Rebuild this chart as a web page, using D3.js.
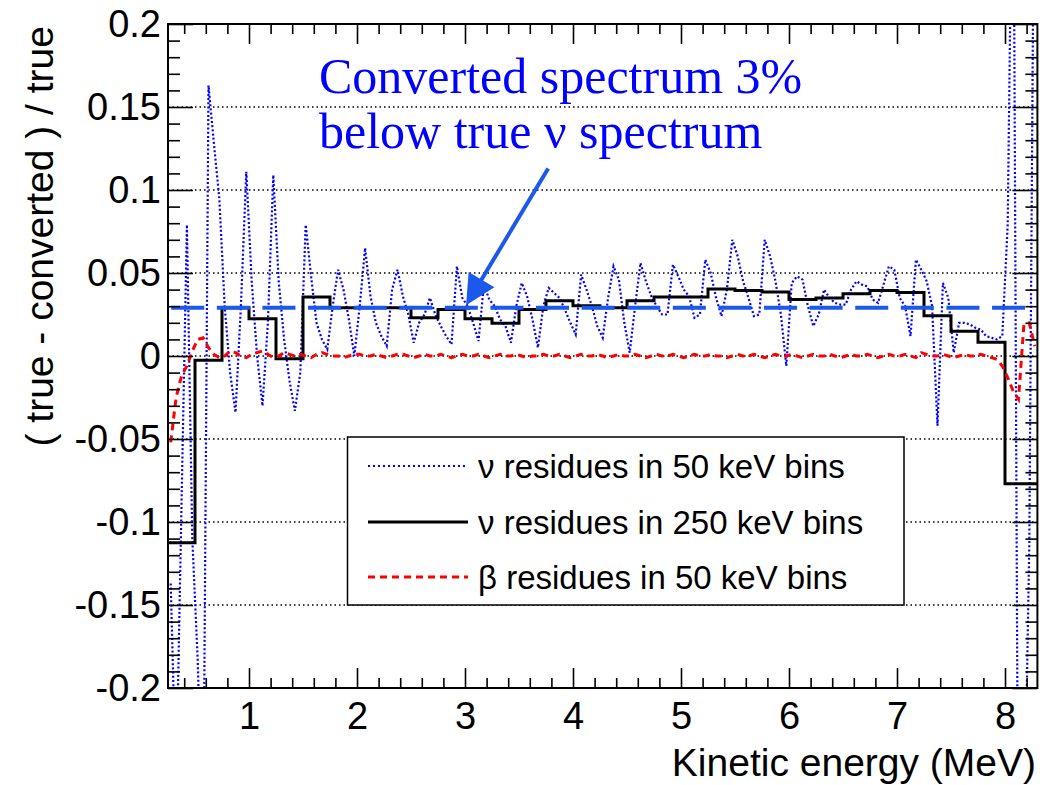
<!DOCTYPE html>
<html><head><meta charset="utf-8">
<script src="https://cdn.jsdelivr.net/npm/d3@7"></script>
<style>body{margin:0;background:#fff} svg{display:block}</style>
</head><body><svg id="c" width="1052" height="785"></svg>
<script>
// ---------------- data ----------------
const fineBinStart = 0.25, fineBinWidth = 0.05;   // 50 keV bins, 0.25 .. 8.3 MeV
const nuFine = [
 -0.137,-0.26,-0.09,0.079,-0.11,-0.183,-0.3,0.163,0.128,0.095,
 0.03,-0.01,-0.034,0.03,0.111,0.045,0.0,-0.03,0.02,0.109,
 0.045,0.01,-0.015,-0.033,-0.01,0.079,0.048,0.02,0.01,0.004,
 0.03,0.052,0.04,0.022,0.0,0.03,0.065,0.036,0.02,0.012,
 0.006,0.04,0.052,0.036,0.025,0.008,0.02,0.025,0.035,0.025,
 0.018,0.012,0.007,0.054,0.035,0.03,0.02,0.009,0.043,0.034,
 0.03,0.022,0.018,0.008,0.03,0.044,0.036,0.022,0.005,0.03,
 0.041,0.038,0.035,0.028,0.02,0.013,0.049,0.04,0.03,0.018,
 0.011,0.035,0.054,0.046,0.02,0.002,0.03,0.056,0.045,0.036,
 0.03,0.025,0.025,0.055,0.048,0.04,0.036,0.023,0.025,0.058,
 0.05,0.035,0.024,0.04,0.07,0.06,0.045,0.035,0.024,0.025,
 0.07,0.06,0.045,0.025,-0.006,0.044,0.048,0.046,0.03,0.018,
 0.025,0.04,0.035,0.032,0.031,0.031,0.04,0.045,0.043,0.042,
 0.034,0.032,0.043,0.054,0.052,0.035,0.03,0.012,0.058,0.052,
 0.045,0.03,-0.042,0.044,0.035,0.002,0.02,0.02,0.019,0.017,
 0.016,0.012,0.011,0.01,0.012,0.079,0.35,-0.35,-0.3,-0.114,
 0.35
];
const betaFine = [
 -0.052,-0.025,-0.012,-0.006,0.003,0.010,0.011,0.005,0.001,-0.001,
 0.000,0.003,0.002,0.000,-0.001,0.001,0.002,0.003,0.001,-0.001,
 0.000,0.002,0.001,0.000,0.001,0.000,-0.001,0.001,0.002,0.001,
 0.000,0.000,-0.001,0.000,0.001,0.001,0.000,0.000,0.001,0.000,
 -0.001,0.000,0.001,0.001,0.000,-0.001,0.000,0.001,0.000,0.000,
 0.001,0.000,-0.001,0.000,0.001,0.000,0.000,0.001,0.000,-0.001,
 0.000,0.001,0.000,0.000,0.001,0.000,-0.001,0.000,0.000,0.001,
 0.000,0.000,0.001,0.000,-0.001,0.000,0.001,0.000,0.000,0.001,
 0.000,-0.001,0.000,0.001,0.000,0.000,0.001,0.000,-0.001,0.000,
 0.001,0.000,0.000,0.001,0.000,-0.001,0.000,0.001,0.000,0.000,
 0.001,0.000,0.000,-0.001,0.000,0.001,0.000,0.000,0.001,0.000,
 -0.001,0.000,0.001,0.000,0.000,0.001,0.000,-0.001,0.000,0.001,
 0.000,0.000,0.001,0.000,-0.001,0.000,0.001,0.000,0.000,0.001,
 0.000,-0.001,0.000,0.001,0.000,0.000,0.001,0.000,-0.001,0.002,
 0.001,0.000,0.000,0.001,0.000,-0.001,0.000,0.001,0.000,0.000,
 0.001,0.000,-0.001,-0.002,-0.006,-0.013,-0.021,-0.026,0.019,0.020,
 0.006
];
const coarseEdges = [0.25,0.5,0.75,1.0,1.25,1.5,1.75,2.0,2.25,2.5,2.75,3.0,3.25,3.5,3.75,4.0,
                     4.25,4.5,4.75,5.0,5.25,5.5,5.75,6.0,6.25,6.5,6.75,7.0,7.25,7.5,7.75,8.0,8.3];
const nuCoarse = [-0.1125,-0.0025,0.029,0.0225,-0.0017,0.0355,0.029,0.029,0.029,0.023,0.028,0.0225,
                  0.0197,0.028,0.0333,0.0303,0.029,0.0333,0.0355,0.0355,0.0403,0.0395,0.0385,0.034,
                  0.035,0.0375,0.0395,0.0383,0.0243,0.0149,0.0083,-0.077];
const refLevel = 0.029;
const refRange = [0.28, 8.28];
const xMajorTicks = [1,2,3,4,5,6,7,8];
const xMinorTicks = [0.4,0.6,0.8,1.2,1.4,1.6,1.8,2.2,2.4,2.6,2.8,3.2,3.4,3.6,3.8,4.2,4.4,4.6,4.8,
                     5.2,5.4,5.6,5.8,6.2,6.4,6.6,6.8,7.2,7.4,7.6,7.8,8.2];
const yMajorTicks = [-0.2,-0.15,-0.1,-0.05,0,0.05,0.1,0.15,0.2];
const yTickLabels = ["-0.2","-0.15","-0.1","-0.05","0","0.05","0.1","0.15","0.2"];
const yGridTicks = [-0.15,-0.1,-0.05,0,0.05,0.1,0.15];
const yMinorTicks = d3.range(-20,21).filter(k=>k%5!==0).map(k=>k/100);
const legendLabels = ["\u03bd residues in 50 keV bins","\u03bd residues in 250 keV bins","\u03b2 residues in 50 keV bins"];
const annotationLines = ["Converted spectrum 3%","below true \u03bd spectrum"];
const arrowFrom = [3.77, 0.113], arrowTo = [3.01, 0.0305];
const xTitle = "Kinetic energy (MeV)";
const yTitle = "( true - converted ) / true";

// ---------------- layout ----------------
const L=168, R=1037.4, T=24, B=688;
const sans = "'Liberation Sans', Arial, Helvetica, sans-serif";
const serif = "'Liberation Serif', 'Times New Roman', serif";
const svg = d3.select("#c");
const x = d3.scaleLinear().domain([0.25, 8.3]).range([L, R]);
const y = d3.scaleLinear().domain([-0.2, 0.2]).range([B, T]);

svg.append("defs").append("clipPath").attr("id","pc")
  .append("rect").attr("x",L).attr("y",T).attr("width",R-L).attr("height",B-T);

// grid
svg.append("g").selectAll("line").data(yGridTicks).join("line")
  .attr("x1",L).attr("x2",R).attr("y1",d=>y(d)).attr("y2",d=>y(d))
  .attr("stroke","#000").attr("stroke-width",1.3).attr("stroke-dasharray","1.5,3");

const plot = svg.append("g").attr("clip-path","url(#pc)");
const center = i => fineBinStart + fineBinWidth*(i+0.5);

// blue dotted nu fine
plot.append("path").datum(nuFine)
  .attr("d", d3.line().x((d,i)=>x(center(i))).y(d=>y(d)))
  .attr("fill","none").attr("stroke","#0000ff").attr("stroke-width",2.2)
  .attr("stroke-dasharray","2,2.2");

// black step histogram
const stepPts = [];
nuCoarse.forEach((v,i)=>{ stepPts.push([coarseEdges[i],v]); stepPts.push([coarseEdges[i+1],v]); });
plot.append("path").datum(stepPts)
  .attr("d", d3.line().x(d=>x(d[0])).y(d=>y(d[1])))
  .attr("fill","none").attr("stroke","#000").attr("stroke-width",3);

// red dashed beta
plot.append("path").datum(betaFine)
  .attr("d", d3.line().x((d,i)=>x(center(i))).y(d=>y(d)))
  .attr("fill","none").attr("stroke","#ff0000").attr("stroke-width",3)
  .attr("stroke-dasharray","7,5");

// reference dashed line
plot.append("line").attr("x1",x(refRange[0])).attr("x2",x(refRange[1]))
  .attr("y1",y(refLevel)).attr("y2",y(refLevel))
  .attr("stroke","#1c58ec").attr("stroke-width",4).attr("stroke-dasharray","33,12.6");

// axes (ticks inward)
function noDomain(g){ g.select(".domain").remove(); g.selectAll("line").attr("stroke","#000").attr("stroke-width",1.6); }
svg.append("g").attr("transform",`translate(0,${B})`)
  .call(d3.axisBottom(x).tickValues(xMajorTicks).tickSizeInner(-20).tickSizeOuter(0).tickPadding(14).tickFormat(d3.format("d")))
  .call(noDomain)
  .call(g=>g.selectAll("text").attr("font-family",sans).attr("font-size",38).attr("fill","#000"));
svg.append("g").attr("transform",`translate(0,${B})`)
  .call(d3.axisBottom(x).tickValues(xMinorTicks).tickSizeInner(-10).tickSizeOuter(0).tickFormat(""))
  .call(noDomain);
svg.append("g").attr("transform",`translate(0,${T})`)
  .call(d3.axisTop(x).tickValues(xMajorTicks).tickSizeInner(-20).tickSizeOuter(0).tickFormat(""))
  .call(noDomain);
svg.append("g").attr("transform",`translate(0,${T})`)
  .call(d3.axisTop(x).tickValues(xMinorTicks).tickSizeInner(-10).tickSizeOuter(0).tickFormat(""))
  .call(noDomain);
svg.append("g").attr("transform",`translate(${L},0)`)
  .call(d3.axisLeft(y).tickValues(yMajorTicks).tickSizeInner(-25).tickSizeOuter(0).tickPadding(7)
        .tickFormat((d,i)=>yTickLabels[i]))
  .call(noDomain)
  .call(g=>g.selectAll("text").attr("font-family",sans).attr("font-size",38).attr("fill","#000"));
svg.append("g").attr("transform",`translate(${L},0)`)
  .call(d3.axisLeft(y).tickValues(yMinorTicks).tickSizeInner(-12).tickSizeOuter(0).tickFormat(""))
  .call(noDomain);
svg.append("g").attr("transform",`translate(${R},0)`)
  .call(d3.axisRight(y).tickValues(yMajorTicks).tickSizeInner(-25).tickSizeOuter(0).tickFormat(""))
  .call(noDomain);
svg.append("g").attr("transform",`translate(${R},0)`)
  .call(d3.axisRight(y).tickValues(yMinorTicks).tickSizeInner(-12).tickSizeOuter(0).tickFormat(""))
  .call(noDomain);

// frame
svg.append("rect").attr("x",L).attr("y",T).attr("width",R-L).attr("height",B-T)
  .attr("fill","none").attr("stroke","#000").attr("stroke-width",2);

// legend
const lg = svg.append("g");
lg.append("rect").attr("x",347.5).attr("y",437).attr("width",556.5).attr("height",168)
  .attr("fill","#fff").attr("stroke","#000").attr("stroke-width",1.5);
const legStyles = [
  {stroke:"#0000ff", w:2.2, dash:"2,3"},
  {stroke:"#000", w:3, dash:null},
  {stroke:"#ff0000", w:3, dash:"7,5"}
];
const legY = [466, 522, 577];
legendLabels.forEach((t,i)=>{
  lg.append("line").attr("x1",368).attr("x2",468).attr("y1",legY[i]).attr("y2",legY[i])
    .attr("stroke",legStyles[i].stroke).attr("stroke-width",legStyles[i].w)
    .attr("stroke-dasharray",legStyles[i].dash);
  lg.append("text").attr("x",478).attr("y",legY[i]).attr("dy","0.35em")
    .attr("font-family",sans).attr("font-size",33).attr("fill","#000").text(t);
});

// annotation text
annotationLines.forEach((t,i)=>{
  svg.append("text").attr("x",319).attr("y",93+i*55)
    .attr("font-family",serif).attr("font-size",50).attr("fill","#0000ff").text(t);
});

// arrow
const tx = x(arrowTo[0]), ty = y(arrowTo[1]), fx = x(arrowFrom[0]), fy = y(arrowFrom[1]);
const len = Math.hypot(tx-fx, ty-fy), ux=(tx-fx)/len, uy=(ty-fy)/len;
const hl=30, hw=15;
const bx = tx-ux*hl, by = ty-uy*hl;
svg.append("line").attr("x1",fx).attr("y1",fy).attr("x2",bx+ux*4).attr("y2",by+uy*4)
  .attr("stroke","#1c58ec").attr("stroke-width",4);
svg.append("path")
  .attr("d",`M${tx},${ty}L${bx-uy*hw},${by+ux*hw}L${bx+uy*hw},${by-ux*hw}Z`)
  .attr("fill","#1c58ec");

// axis titles
svg.append("text").attr("x",1036).attr("y",776).attr("text-anchor","end")
  .attr("font-family",sans).attr("font-size",39).attr("fill","#000").text(xTitle);
svg.append("text").attr("transform","translate(53,26) rotate(-90)").attr("text-anchor","end")
  .attr("font-family",sans).attr("font-size",39).attr("fill","#000").text(yTitle);
</script></body></html>
